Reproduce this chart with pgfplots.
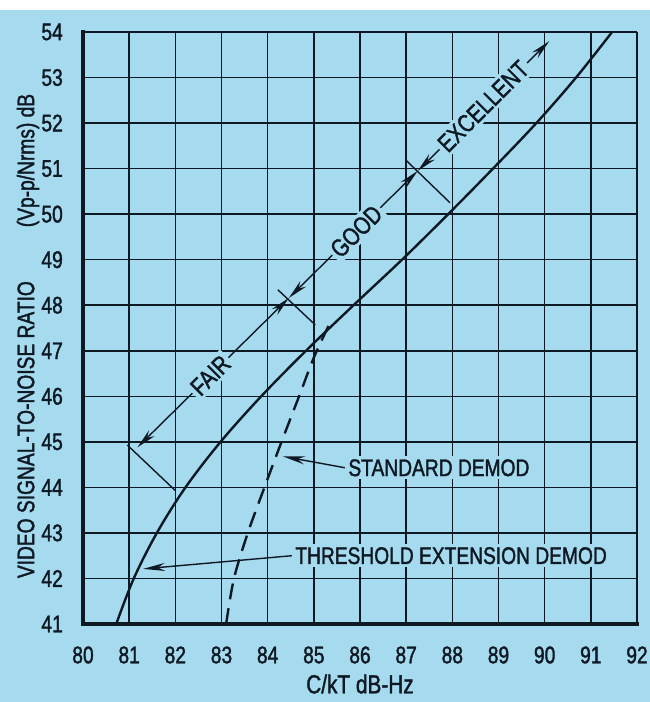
\documentclass[border=0pt]{standalone}
\usepackage{fontspec}
\setmainfont{Liberation Sans}[FakeStretch=0.8, BoldFont={Liberation Sans}, BoldFeatures={FakeBold=1.5}]
\usepackage{pgfplots}
\pgfplotsset{compat=1.18}
\usetikzlibrary{arrows.meta}
\definecolor{bg}{RGB}{166,218,238}
\definecolor{ink}{RGB}{15,25,35}
\begin{document}
\begin{tikzpicture}[x=1pt,y=1pt]
\fill[white] (0,0) rectangle (650,702);
\fill[bg] (0,0) rectangle (650,692);
\useasboundingbox (0,0) rectangle (650,702);
\begin{axis}[
  at={(83pt,78pt)}, anchor=south west,
  scale only axis, width=554pt, height=592pt,
  xmin=80, xmax=92, ymin=41, ymax=54,
  xtick={80,...,92}, ytick={41,...,54},
  grid=major, major grid style={line width=1.5pt, draw=ink},
  major tick length=0pt,
  axis x line=bottom, axis y line=left,
  axis line style={line width=4pt, draw=ink, -, line cap=rect},
  tick label style={font=\fontsize{24}{24}\selectfont\bfseries, text=ink},
  /pgf/number format/assume math mode=true,
  xticklabel style={anchor=center, yshift=-31pt},
  yticklabel style={anchor=east, xshift=-20pt, inner sep=0pt},
  clip=false,
]
% threshold extension demod (solid)
\addplot[ink, line width=2.4pt, smooth, tension=0.55] coordinates {
  (80.72,41) (81.10,42) (81.60,43) (82.22,44) (82.98,45) (83.86,46)
  (84.83,47) (85.86,48) (86.91,49) (87.91,50) (88.88,51) (89.82,52)
  (90.68,53) (91.46,54)
};
% standard demod (dashed)
\addplot[ink, line width=2.4pt, smooth, tension=0.5, dash pattern=on 16pt off 9pt] coordinates {
  (83.1,41) (83.27,42) (83.57,43) (83.93,44) (84.3,45) (84.68,46)
  (85.0,46.85) (85.32,47.55)
};
% quality range arrows
\draw[ink, line width=1.4pt, {Stealth[length=20pt,width=8pt]}-{Stealth[length=20pt,width=8pt]}]
  (axis cs:81.18,44.88) -- (axis cs:84.46,48.16);
\draw[ink, line width=1.4pt, {Stealth[length=20pt,width=8pt]}-{Stealth[length=20pt,width=8pt]}]
  (axis cs:84.46,48.16) -- (axis cs:87.25,50.95);
\draw[ink, line width=1.4pt, {Stealth[length=20pt,width=8pt]}-{Stealth[length=20pt,width=8pt]}]
  (axis cs:87.25,50.95) -- (axis cs:90.1,53.8);
% dividers
\draw[ink, line width=1.4pt] (axis cs:80.96,44.93) -- (axis cs:82.0,43.93);
\draw[ink, line width=1.4pt] (axis cs:84.22,48.34) -- (axis cs:85.03,47.57);
\draw[ink, line width=1.4pt] (axis cs:86.98,51.2) -- (axis cs:87.95,50.25);
% range labels
\node[rotate=45, fill=bg, inner sep=3pt, font=\fontsize{25}{25}\selectfont\bfseries, text=ink] at (axis cs:82.76,46.46) {FAIR};
\node[rotate=45, fill=bg, inner sep=3pt, font=\fontsize{25}{25}\selectfont\bfseries, text=ink] at (axis cs:85.92,49.62) {GOOD};
\node[rotate=45, fill=bg, inner sep=3pt, font=\fontsize{25}{25}\selectfont\bfseries, text=ink] at (axis cs:88.67,52.37) {EXCELLENT};
% curve labels
\draw[ink, line width=1.4pt, -{Stealth[length=22pt,width=8pt]}] (axis cs:84.53,42.5) -- (axis cs:81.3,42.21);
\node[anchor=west, fill=bg, inner sep=3pt, font=\fontsize{24}{24}\selectfont\bfseries, text=ink] at (axis cs:84.53,42.5) {THRESHOLD EXTENSION DEMOD};
\draw[ink, line width=1.4pt, -{Stealth[length=22pt,width=8pt]}] (axis cs:85.68,44.43) -- (axis cs:84.33,44.68);
\node[anchor=west, fill=bg, inner sep=3pt, font=\fontsize{24}{24}\selectfont\bfseries, text=ink] at (axis cs:85.68,44.43) {STANDARD DEMOD};
\end{axis}
\node[font=\fontsize{26}{26}\selectfont\bfseries, text=ink] at (360,18) {C/kT dB-Hz};
\node[rotate=90, font=\fontsize{24}{24}\selectfont\bfseries, text=ink] at (28,366) {VIDEO SIGNAL-TO-NOISE RATIO\hspace{54pt}(Vp-p/Nrms) dB};
\end{tikzpicture}
\end{document}
